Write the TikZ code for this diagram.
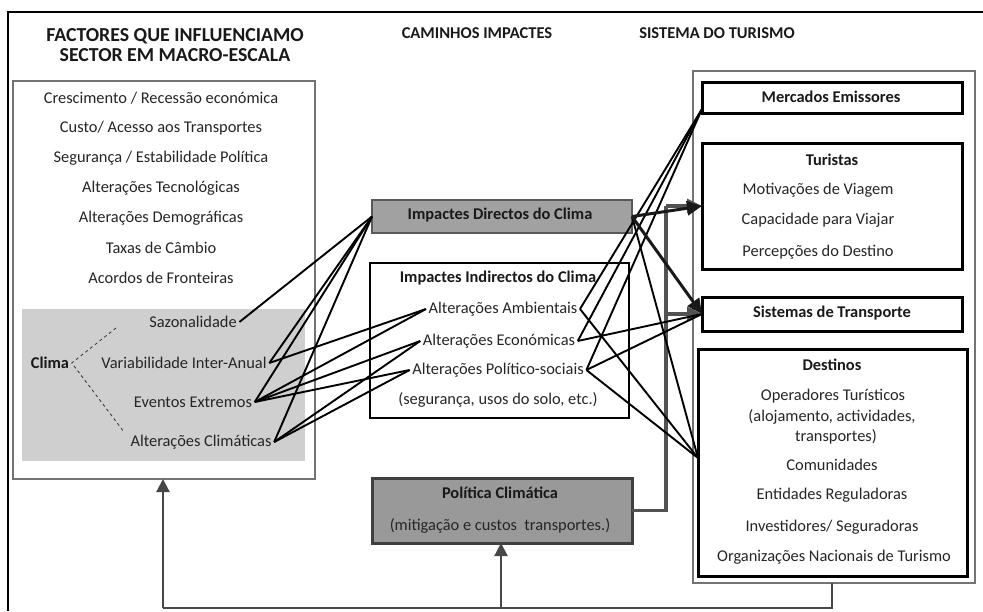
\documentclass[tikz,border=0pt]{standalone}
\usepackage{fontspec}
\setmainfont{Carlito}
\usetikzlibrary{arrows.meta}
\begin{document}
\begin{tikzpicture}[x=1pt,y=-1pt,
  txt/.style={inner sep=2.5pt, font=\fontsize{16.4}{19}\selectfont, text=black!85},
  btxt/.style={inner sep=2.5pt, font=\fontsize{16.4}{19}\selectfont\bfseries, text=black!90},
  hd/.style={inner sep=0pt, font=\fontsize{16.5}{20}\selectfont\bfseries, text=black!90},
  box/.style={draw, inner sep=0pt, outer sep=0pt, anchor=north west},
  thickbox/.style={box, fill=white, line width=3pt},
  lk/.style={draw=black, line width=1.9pt},
  lkt/.style={draw=black!90, line width=3pt},
  bigtip/.style={-{Triangle[length=15pt,width=14pt]}},
  fb/.style={draw=black!72, line width=2.2pt},
  pl/.style={draw=black!68, line width=3.2pt},
]
\useasboundingbox (0,0) rectangle (983,611);
\fill[white] (0,0) rectangle (983,611);
% outer frame
\draw[line width=2.8pt] (8,611) -- (8,12) -- (983,12);

% headings
\node[hd, align=center, font=\fontsize{19.8}{20}\selectfont\bfseries] (h1) at (175,45) {FACTORES QUE INFLUENCIAMO\\SECTOR EM MACRO-ESCALA};
\node[hd] (h2) at (477,33) {CAMINHOS IMPACTES};
\node[hd] (h3) at (717,33) {SISTEMA DO TURISMO};

% left box
\node[box, draw=black!55, line width=1.1pt, minimum width=302, minimum height=398] (lb) at (13,81) {};
\node[box, draw=none, fill=black!19, minimum width=283, minimum height=152] (ca) at (22,309) {};
\node[txt] (f1) at (161,98) {Crescimento / Recessão económica};
\node[txt] (f2) at (161,128) {Custo/ Acesso aos Transportes};
\node[txt] (f3) at (161,158) {Segurança / Estabilidade Política};
\node[txt] (f4) at (161,188) {Alterações Tecnológicas};
\node[txt] (f5) at (161,218) {Alterações Demográficas};
\node[txt] (f6) at (161,248) {Taxas de Câmbio};
\node[txt] (f7) at (161,278) {Acordos de Fronteiras};
\node[btxt] (clima) at (50,363) {Clima};
\node[txt] (sazo) at (193,322) {Sazonalidade};
\node[txt] (vari) at (184,363) {Variabilidade Inter-Anual};
\node[txt] (even) at (193,402) {Eventos Extremos};
\node[txt] (clim) at (201,442) {Alterações Climáticas};
\coordinate (dsh1) at (116,328);
\coordinate (dsh2) at (124,432);
\draw[dashed, black!75, line width=0.9pt] (dsh1) -- (clima.east) -- (dsh2);

% middle boxes
\node[box, draw=black!65, fill=black!37, line width=2.4pt, minimum width=260, minimum height=33] (dir) at (372,200) {};
\node[btxt] (dirt) at (500,215) {Impactes Directos do Clima};
\node[thickbox, line width=2.6pt, minimum width=259, minimum height=155] (ind) at (370,263) {};
\node[btxt] (indt) at (498,278) {Impactes Indirectos do Clima};
\node[txt] (amb) at (503,309) {Alterações Ambientais};
\node[txt] (eco) at (499,341) {Alterações Económicas};
\node[txt] (pos) at (498,370) {Alterações Político-sociais};
\node[txt] (seg) at (498,400) {(segurança, usos do solo, etc.)};
\node[box, draw=black!75, fill=black!40, line width=3pt, minimum width=260, minimum height=65] (pol) at (372,478) {};
\node[btxt] (polt) at (500,493) {Política Climática};
\node[txt] (pold) at (500,526) {(mitigação e custos\ \ transportes.)};

% right system
\node[box, draw=black!55, line width=1.1pt, minimum width=282, minimum height=512] (sys) at (693,71) {};
\node[thickbox, minimum width=260, minimum height=31] (mer) at (702,82) {};
\node[btxt] (mert) at (831,97) {Mercados Emissores};
\node[thickbox, minimum width=260, minimum height=126] (tur) at (702,143) {};
\node[btxt] (turt) at (832,160) {Turistas};
\node[txt] (tu1) at (818,190) {Motivações de Viagem};
\node[txt] (tu2) at (818,220) {Capacidade para Viajar};
\node[txt] (tu3) at (818,252) {Percepções do Destino};
\node[thickbox, minimum width=260, minimum height=34] (sis) at (702,297) {};
\node[btxt] (sist) at (832,313) {Sistemas de Transporte};
\node[thickbox, minimum width=269, minimum height=227] (des) at (698,349) {};
\node[btxt] (dest) at (832,365) {Destinos};
\node[txt] (de1) at (833,396) {Operadores Turísticos};
\node[txt] (de2) at (832,417) {(alojamento, actividades,};
\node[txt] (de3) at (836,437) {transportes)};
\node[txt] (de4) at (832,465) {Comunidades};
\node[txt] (de5) at (832,495) {Entidades Reguladoras};
\node[txt] (de6) at (832,527) {Investidores/ Seguradoras};
\node[txt] (de7) at (834,557) {Organizações Nacionais de Turismo};

% feedback connector
\coordinate (fbr) at (832,608);
\coordinate (fbl) at (163,608);
\coordinate (fbm) at (501,608);
\draw[fb] (fbr |- sys.south) -- (fbr) -- (fbl);
\draw[fb, -{Triangle[length=13pt,width=13pt]}] (fbl) -- (fbl |- lb.south);
\draw[fb, -{Triangle[length=13pt,width=13pt]}] (fbm) -- (fbm |- pol.south);

% policy connector
\coordinate (pv) at (666,206);
\draw[pl] (pol.east) -| (pv);
\draw[pl, bigtip] (pv) -- (tur.west);
\draw[pl, bigtip] (pv |- sis.west) -- (sis.west);

% climate links (left)
\draw[lk] (sazo.east) -- (dir.west);
\draw[lk] (vari.east) -- (dir.west);
\draw[lk] (vari.east) -- (amb.west);
\draw[lk] (even.east) -- (dir.west);
\draw[lk] (even.east) -- (amb.west);
\draw[lk] (even.east) -- (eco.west);
\draw[lk] (even.east) -- (pos.west);
\draw[lk] (clim.east) -- (dir.west);
\draw[lk] (clim.east) -- (eco.west);
\draw[lk] (clim.east) -- (pos.west);

% links to tourism system (right)
\coordinate (merp) at ([yshift=4pt]mer.south west);
\coordinate (desp) at ([yshift=4.5pt]des.west);
\draw[lk] (amb.east) -- (merp);
\draw[lk] (amb.east) -- (desp);
\draw[lk] (eco.east) -- (merp);
\draw[lk] (eco.east) -- (sis.west);
\draw[lk] (pos.east) -- (merp);
\draw[lk] (pos.east) -- (sis.west);
\draw[lk] (pos.east) -- (desp);
\draw[lk] (dir.east) -- (desp);
\draw[lkt, bigtip] (dir.east) -- (tur.west);
\draw[lkt, bigtip] (dir.east) -- (sis.west);
\end{tikzpicture}
\end{document}
